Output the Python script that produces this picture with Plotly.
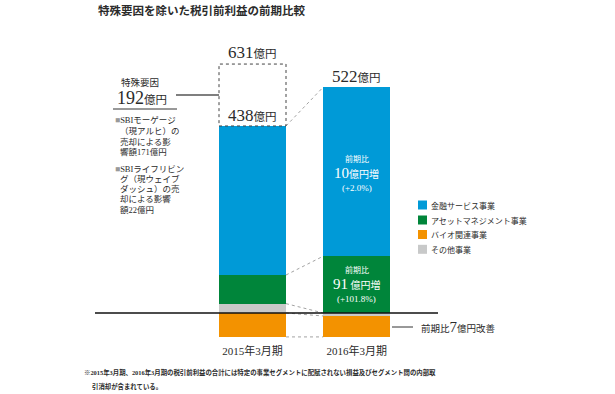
import plotly.graph_objects as go

# ---------------- data ----------------
categories = ["2015年3月期", "2016年3月期"]
# segment heights (億円)
other_vals = [22, -7]          # その他事業
bio_vals = [-56, -49]          # バイオ関連事業
asset_vals = [67, 133]         # アセットマネジメント事業
finance_vals = [349, 396]      # 金融サービス事業
special_factor = 145           # 特殊要因 (dashed box height on 2015 bar)

series_names = ["その他事業", "バイオ関連事業", "アセットマネジメント事業", "金融サービス事業"]
series_colors = ["#C8C9C9", "#F39200", "#00853A", "#009AD7"]
legend_order = ["金融サービス事業", "アセットマネジメント事業", "バイオ関連事業", "その他事業"]

total_labels = ["438", "522"]
special_total_label = "631"
special_label = "192"

# ---------------- geometry helpers ----------------
W, H = 615, 394
B = 51
PH = H - B
S = 0.427                      # px per unit
ZERO_PX = 313
BAR_W = 0.643
STEP = 104.2

def px(p):
    return p / W

def py(p):
    return (PH - p) / PH

SERIF = "Liberation Serif, Noto Sans CJK JP"
SANS = "Noto Sans CJK JP"
TXT = "#2b2b2b"

fig = go.Figure()
vals = [other_vals, bio_vals, asset_vals, finance_vals]
for name, col, v in zip(series_names, series_colors, vals):
    fig.add_trace(go.Bar(x=[0, 1], y=v, name=name, width=BAR_W,
                         marker=dict(color=col, line=dict(width=0)),
                         showlegend=False, hoverinfo="name+y"))

pos_top = [sum(max(a[i], 0) for a in vals) for i in range(2)]
neg_bot = [sum(min(a[i], 0) for a in vals) for i in range(2)]

shapes = []
L, R = 0 + BAR_W / 2, 1 - BAR_W / 2
dot = dict(color="#8a8a8a", width=0.8, dash="dot")
conn = [
    (pos_top[0], pos_top[1]),
    (other_vals[0] + asset_vals[0], max(other_vals[1], 0) + asset_vals[1]),
    (other_vals[0], max(other_vals[1], 0)),
    (0, min(other_vals[1], 0)),
    (neg_bot[0], neg_bot[1]),
]
for y0, y1 in conn:
    shapes.append(dict(type="line", xref="x", yref="y", x0=L, x1=R, y0=y0, y1=y1, line=dot))
shapes.append(dict(type="rect", xref="x", yref="y", x0=-BAR_W / 2, x1=BAR_W / 2,
                   y0=pos_top[0], y1=pos_top[0] + special_factor,
                   line=dict(color="#444", width=1, dash="dot")))
mid = pos_top[0] + special_factor / 2
shapes.append(dict(type="line", xref="paper", yref="y", x0=px(176), x1=px(219), y0=mid, y1=mid,
                   line=dict(color="#555", width=1.3)))
shapes.append(dict(type="line", xref="paper", yref="paper", x0=px(113), x1=px(177), y0=py(109), y1=py(109),
                   line=dict(color="#333", width=1)))
shapes.append(dict(type="line", xref="paper", yref="y", x0=px(95), x1=px(438), y0=0, y1=0,
                   line=dict(color="#111", width=1.5)))
shapes.append(dict(type="line", xref="paper", yref="paper", x0=px(392), x1=px(413), y0=py(327), y1=py(327),
                   line=dict(color="#333", width=1)))

leg_y = [205, 220, 234.5, 249.3]
cmap = dict(zip(series_names, series_colors))
ann = []

def note(text, x, y, size=9, family=SERIF, xanchor="center", color=TXT, **kw):
    d = dict(text=text, xref="paper", yref="paper", x=px(x), y=py(y), xanchor=xanchor,
             yanchor="middle", showarrow=False, font=dict(family=family, size=size, color=color))
    d.update(kw)
    ann.append(d)

for name, yy in zip(legend_order, leg_y):
    shapes.append(dict(type="rect", xref="paper", yref="paper", x0=px(418), x1=px(427),
                       y0=py(yy + 4.5), y1=py(yy - 4.5), fillcolor=cmap[name], line=dict(width=0)))
    note(name, 429, yy, size=8, family=SANS, xanchor="left")

def big(num, nsize=17, usize=11.5):
    return (f"<span style='font-size:{nsize}px'>{num}</span>"
            f"<span style='font-size:{usize}px'>億円</span>")

ann.append(dict(text=big(special_total_label), x=0, y=pos_top[0] + special_factor, xref="x", yref="y",
                xanchor="center", yanchor="bottom", yshift=0, showarrow=False,
                font=dict(family=SERIF, color=TXT)))
for i in range(2):
    ann.append(dict(text=big(total_labels[i]), x=i, y=pos_top[i], xref="x", yref="y",
                    xanchor="center", yanchor="bottom", yshift=-1, showarrow=False,
                    font=dict(family=SERIF, color=TXT)))

fin_c = max(other_vals[1], 0) + asset_vals[1] + finance_vals[1] / 2
ast_c = max(other_vals[1], 0) + asset_vals[1] / 2
inside = [
    (fin_c, 13, "前期比", 8),
    (fin_c, -1, "<span style='font-size:15px'>10</span>億円増", 10),
    (fin_c, -16, "(+2.0%)", 9),
    (ast_c, 15, "前期比", 8),
    (ast_c, 1, "<span style='font-size:15px'>91</span> 億円増", 10),
    (ast_c, -14, "(+101.8%)", 9),
]
for yy, sh, t, fs in inside:
    ann.append(dict(text=t, x=1, y=yy, xref="x", yref="y", yshift=sh, showarrow=False,
                    xanchor="center", yanchor="middle",
                    font=dict(family=SERIF, size=fs, color="white")))

note("特殊要因", 140, 82, size=9.5, family=SANS)
note(big(special_label, 18, 11.5), 142, 98)
left_lines = [
    (120, "<span style='color:#999'>■</span>SBIモーゲージ", 113),
    (131, "（現アルヒ）の", 118),
    (141.5, "売却による影", 118),
    (152, "響額171億円", 118),
    (169, "<span style='color:#999'>■</span>SBIライフリビン", 113),
    (179, "グ（現ウェイブ", 118),
    (189, "ダッシュ）の売", 118),
    (199, "却による影響", 118),
    (209.5, "額22億円", 118),
]
for yy, t, xx in left_lines:
    note(t, xx, yy, size=8.5, xanchor="left")

note("前期比<span style='font-size:15px'>7</span>億円改善", 419, 327, size=9.5, xanchor="left")
note("<b>特殊要因を除いた税引前利益の前期比較</b>", 96, 10, size=11.5, family=SANS, xanchor="left")
note("<b>※2015年3月期、2016年3月期の税引前利益の合計には特定の事業セグメントに配賦されない損益及びセグメント間の内部取</b>",
     82, 372, size=6.4, xanchor="left")
note("<b>引消却が含まれている。</b>", 90, 387, size=6.4, xanchor="left")

a = -252.5 / STEP
fig.update_layout(
    width=W, height=H, barmode="relative", bargap=0,
    margin=dict(l=0, r=0, t=0, b=B),
    paper_bgcolor="white", plot_bgcolor="white",
    xaxis=dict(range=[a, a + W / STEP], tickvals=[0, 1], ticktext=categories, showgrid=False,
               zeroline=False, showline=False, ticks="", tickfont=dict(family=SERIF, size=11, color=TXT)),
    yaxis=dict(range=[-(PH - ZERO_PX) / S, ZERO_PX / S], showgrid=False, zeroline=False,
               showticklabels=False, showline=False),
    shapes=shapes, annotations=ann, showlegend=False,
)
fig.write_html("out.html", config={"displayModeBar": False},
               post_script="document.body.style.margin='0px';")
